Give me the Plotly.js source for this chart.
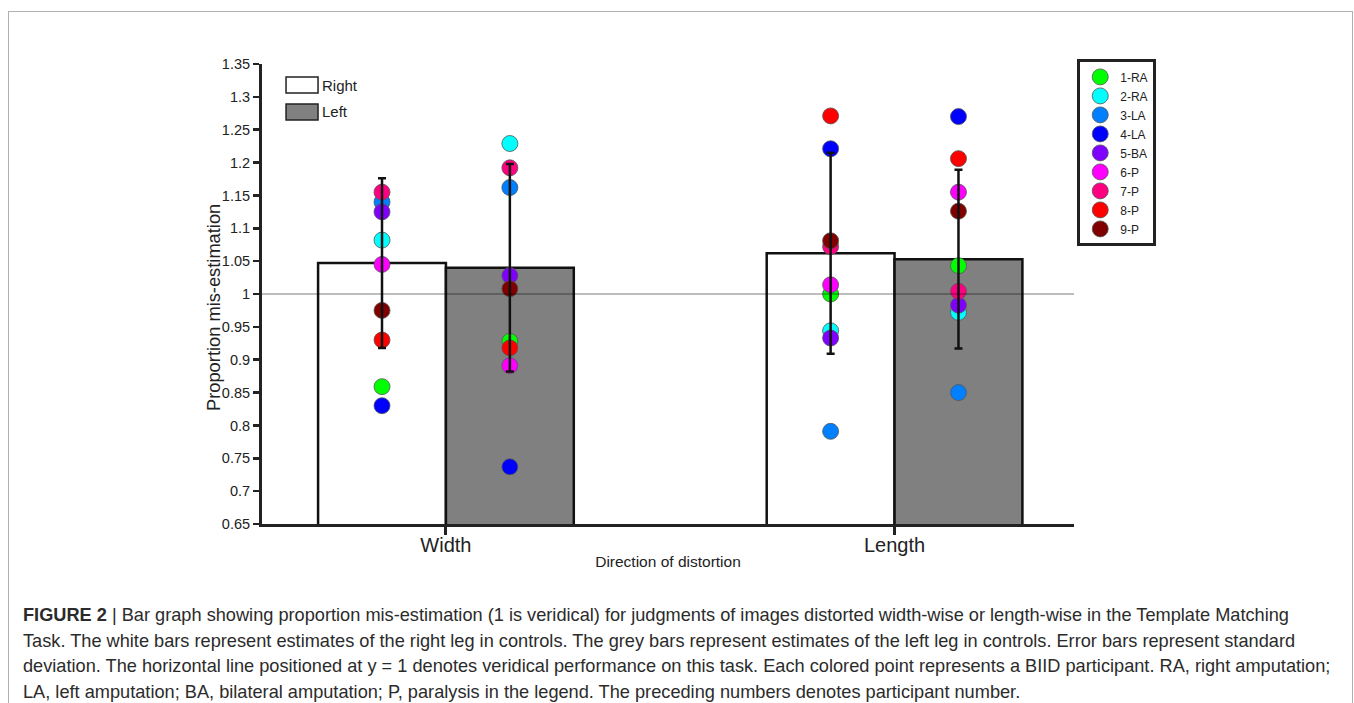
<!DOCTYPE html>
<html>
<head>
<meta charset="utf-8">
<script src="https://cdn.plot.ly/plotly-3.0.1.min.js"></script>
<style>
  html, body { margin: 0; padding: 0; background: #fff; width: 1354px; height: 703px; overflow: hidden; }
  #frame { position: absolute; left: 8px; top: 11px; width: 1343px; height: 720px; border: 1px solid #b0b0b0; border-bottom: none; pointer-events: none; }
  #chart { position: absolute; left: 0; top: 0; width: 1354px; height: 703px; }
  #caption { position: absolute; left: 23px; top: 603px; font-family: Arial, "Liberation Sans", sans-serif; font-size: 18.2px; line-height: 25.5px; color: #2b2b2b; white-space: nowrap; }
  #caption b { font-weight: bold; }
</style>
</head>
<body>
<div id="chart"></div>
<div id="frame"></div>
<div id="caption"><b>FIGURE 2</b> | Bar graph showing proportion mis-estimation (1 is veridical) for judgments of images distorted width-wise or length-wise in the Template Matching<br>Task. The white bars represent estimates of the right leg in controls. The grey bars represent estimates of the left leg in controls. Error bars represent standard<br>deviation. The horizontal line positioned at y = 1 denotes veridical performance on this task. Each colored point represents a BIID participant. RA, right amputation;<br>LA, left amputation; BA, bilateral amputation; P, paralysis in the legend. The preceding numbers denotes participant number.</div>
<script>
// ---- data ----
const categories = ["Width", "Length"];
const rightMean = [1.047, 1.062];
const leftMean = [1.040, 1.053];
const rightSD = [0.129, 0.153];
const leftSD = [0.158, 0.136];

const participants = ["1-RA", "2-RA", "3-LA", "4-LA", "5-BA", "6-P", "7-P", "8-P", "9-P"];
const widthRight  = [0.859, 1.082, 1.140, 0.830, 1.125, 1.045, 1.155, 0.930, 0.975];
const widthLeft   = [0.928, 1.229, 1.162, 0.737, 1.028, 0.891, 1.192, 0.918, 1.008];
const lengthRight = [1.000, 0.944, 0.791, 1.221, 0.933, 1.014, 1.072, 1.271, 1.081];
const lengthLeft  = [1.043, 0.972, 0.850, 1.270, 0.983, 1.155, 1.004, 1.206, 1.126];

const participantColors = ["#00ff00", "#00ffff", "#0080ff", "#0000ff", "#8000ff", "#ff00ff", "#ff0080", "#ff0000", "#800000"];

const FONT = 'Arial, "Liberation Sans", sans-serif';

const traces = [];
traces.push({
  type: "bar", name: "Right", x: categories, y: rightMean, offsetgroup: "R",
  marker: { color: "#ffffff", line: { color: "#111", width: 2.5 } }, showlegend: false
});
traces.push({
  type: "bar", name: "Left", x: categories, y: leftMean, offsetgroup: "L",
  marker: { color: "#808080", line: { color: "#111", width: 2.5 } }, showlegend: false
});

participants.forEach((p, i) => {
  const mk = { color: participantColors[i], size: 16, line: { color: "#555", width: 0.8 } };
  traces.push({
    type: "scatter", mode: "markers", name: p, legendgroup: p, offsetgroup: "R",
    x: categories, y: [widthRight[i], lengthRight[i]], marker: mk, showlegend: true
  });
  traces.push({
    type: "scatter", mode: "markers", name: p, legendgroup: p, offsetgroup: "L",
    x: categories, y: [widthLeft[i], lengthLeft[i]], marker: mk, showlegend: false
  });
});

traces.push({
  type: "scatter", mode: "markers", x: categories, y: rightMean, offsetgroup: "R",
  marker: { opacity: 0, size: 1 }, showlegend: false, hoverinfo: "skip",
  error_y: { type: "data", array: rightSD, visible: true, color: "#111", thickness: 2.5, width: 4 }
});
traces.push({
  type: "scatter", mode: "markers", x: categories, y: leftMean, offsetgroup: "L",
  marker: { opacity: 0, size: 1 }, showlegend: false, hoverinfo: "skip",
  error_y: { type: "data", array: leftSD, visible: true, color: "#111", thickness: 2.5, width: 4 }
});

const layout = {
  width: 1354, height: 703,
  margin: { l: 262, r: 280, t: 64, b: 179 },
  paper_bgcolor: "rgba(0,0,0,0)", plot_bgcolor: "rgba(0,0,0,0)",
  font: { family: FONT, color: "#222" },
  barmode: "group", bargap: 0.43, bargroupgap: 0,
  scattermode: "group", scattergap: 0.43,
  showlegend: true,
  legend: {
    x: 1.004, xanchor: "left", y: 1.01, yanchor: "top",
    bgcolor: "#fff", bordercolor: "#222", borderwidth: 3,
    font: { family: FONT, size: 12, color: "#222" },
    itemwidth: 30, tracegroupgap: 0
  },
  xaxis: {
    type: "category", range: [-0.41, 1.40],
    showline: true, linecolor: "#222", linewidth: 3,
    ticks: "outside", ticklen: 8, tickwidth: 3, tickcolor: "#222",
    ticklabelstandoff: -7,
    tickfont: { family: FONT, size: 20, color: "#222" },
    showgrid: false, zeroline: false,
    title: { text: "Direction of distortion", font: { family: FONT, size: 15.5, color: "#222" }, standoff: 2 }
  },
  yaxis: {
    range: [0.65, 1.35], dtick: 0.05, tick0: 0.65,
    showline: true, linecolor: "#222", linewidth: 3,
    ticks: "outside", ticklen: 6, tickwidth: 2.5, tickcolor: "#222",
    tickfont: { family: FONT, size: 14.5, color: "#222" },
    showgrid: false, zeroline: false
  },
  shapes: [
    { type: "line", xref: "paper", yref: "y", x0: 0, x1: 1, y0: 1, y1: 1, layer: "above",
      line: { color: "rgba(0,0,0,0.35)", width: 1.5 } },
    { type: "rect", xref: "paper", yref: "paper", x0: 0.0296, x1: 0.069, y0: 0.9717, y1: 0.9370,
      fillcolor: "#fff", line: { color: "#222", width: 1.5 } },
    { type: "rect", xref: "paper", yref: "paper", x0: 0.0296, x1: 0.069, y0: 0.9130, y1: 0.8783,
      fillcolor: "#808080", line: { color: "#222", width: 1.5 } }
  ],
  annotations: [
    { xref: "paper", yref: "paper", x: -0.0591, y: 0.4696, xanchor: "center", yanchor: "middle", showarrow: false,
      textangle: -90, text: "Proportion mis-estimation", font: { family: FONT, size: 18.3, color: "#222" } },
    { xref: "paper", yref: "paper", x: 0.0715, y: 0.9543, xanchor: "left", yanchor: "middle", showarrow: false,
      text: "Right", font: { family: FONT, size: 15, color: "#222" } },
    { xref: "paper", yref: "paper", x: 0.0715, y: 0.8957, xanchor: "left", yanchor: "middle", showarrow: false,
      text: "Left", font: { family: FONT, size: 15, color: "#222" } }
  ]
};

Plotly.newPlot("chart", traces, layout, { staticPlot: true });
</script>
</body>
</html>
